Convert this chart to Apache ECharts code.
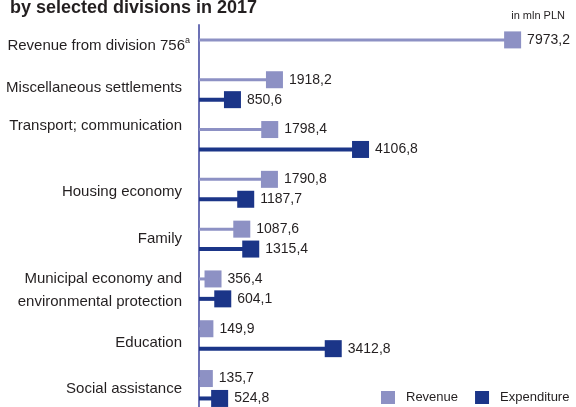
<!DOCTYPE html>
<html>
<head>
<meta charset="utf-8">
<script src="https://cdn.jsdelivr.net/npm/echarts@6/dist/echarts.min.js"></script>
<style>
  html, body { margin: 0; padding: 0; background: #ffffff; }
  #chart { width: 576px; height: 407px; }
</style>
</head>
<body>
<div id="chart"></div>
<script>
// Budget revenue and expenditure of gminas by selected divisions, 2017 (mln PLN)
const categories = [
  'Revenue from division 756',
  'Miscellaneous settlements',
  'Transport; communication',
  'Housing economy',
  'Family',
  'Municipal economy and\nenvironmental protection',
  'Education',
  'Social assistance'
];
const revenue = [7973.2, 1918.2, 1798.4, 1790.8, 1087.6, 356.4, 149.9, 135.7];
const expenditure = [null, 850.6, 4106.8, 1187.7, 1315.4, 604.1, 3412.8, 524.8];
const seriesNames = ['Revenue', 'Expenditure'];
const unitText = 'in mln PLN';
const titleText = 'by selected divisions in 2017';

const FONT = "'Liberation Sans', Arial, sans-serif";
const TEXT = '#231f20';
const C_REV = '#8d91c4';
const C_EXP = '#1b3588';
const C_AXIS = '#6c71b5';
const SQ = 17;              // marker square side
const CAT_SIZE = 15;
const VAL_SIZE = 14;
const labelShift = [6, -2, -14, 3, 0, 2, 4, 0]; // vertical nudge of category names, px
const labelInset = [0, 8, 8, 8, 8, 8, 8, 8];    // extra gap between name and axis, px

const GRID_LEFT = 199, GRID_RIGHT = 23, GRID_TOP = 15, GRID_H = 398.4;

function fmt(v) { return v.toFixed(1).replace('.', ','); }

function toData(values) {
  const out = [];
  values.forEach(function (v, i) { if (v != null) out.push([v, i]); });
  return out;
}

function renderer(others, color, lineW, up) {
  return function (params, api) {
    const v = api.value(0);
    const cat = api.value(1);
    const band = api.size([0, 1])[1];
    const paired = others[cat] != null;
    const dy = paired ? (up ? -0.2 : 0.2) * band : 0;
    const base = api.coord([0, cat]);
    const end = api.coord([v, cat]);
    const y = end[1] + dy;
    const cs = params.coordSys;
    const half = SQ / 2;
    const sqLeft = Math.max(end[0] - half, cs.x + 1);
    return {
      type: 'group',
      children: [
        { type: 'rect', shape: { x: base[0], y: y - lineW / 2, width: Math.max(0, end[0] - base[0]), height: lineW },
          style: { fill: color } },
        { type: 'rect', shape: { x: sqLeft, y: y - half, width: end[0] + half - sqLeft, height: SQ },
          style: { fill: color } },
        { type: 'text', x: end[0] + half + 6, y: y,
          style: { text: fmt(v), fill: TEXT, font: VAL_SIZE + 'px ' + FONT, align: 'left', verticalAlign: 'middle' } }
      ]
    };
  };
}

// rich styles for the category names (each one nudged separately)
const rich = {};
labelShift.forEach(function (s, i) {
  rich['c' + i] = {
    fontFamily: FONT, fontSize: CAT_SIZE, color: TEXT, lineHeight: 20,
    padding: [s > 0 ? 2 * s : 0, labelInset[i], s < 0 ? -2 * s : 0, 0]
  };
});
rich.s0 = { fontFamily: FONT, fontSize: 9, color: TEXT, lineHeight: 12, padding: [2, 0, 0, 0] };
rich.m1 = { fontFamily: FONT, fontSize: CAT_SIZE, color: TEXT, lineHeight: 25, padding: [4, labelInset[5], 0, 0], align: 'right' };
rich.m2 = { fontFamily: FONT, fontSize: CAT_SIZE, color: TEXT, lineHeight: 25, padding: [0, labelInset[5], 0, 0], align: 'right' };

function catLabel(value, idx) {
  if (idx === 0) return '{c0|' + value + '}{s0|a}';
  if (value.indexOf('\n') >= 0) {
    const parts = value.split('\n');
    return '{m1|' + parts[0] + '}\n{m2|' + parts[1] + '}';
  }
  return '{c' + idx + '|' + value + '}';
}

const chart = echarts.init(document.getElementById('chart'), null, { renderer: 'canvas' });
chart.setOption({
  animation: false,
  backgroundColor: '#ffffff',
  title: [
    { text: titleText, left: 10, top: -1, padding: 0,
      textStyle: { fontFamily: FONT, fontWeight: 'bold', fontSize: 18, color: TEXT } },
    { text: unitText, right: 11, top: 10, padding: 0,
      textStyle: { fontFamily: FONT, fontWeight: 'normal', fontSize: 11, color: TEXT } }
  ],
  legend: {
    left: 381, top: 391, width: 195, padding: 0,
    itemWidth: 14, itemHeight: 13, itemGap: 17,
    textStyle: { fontFamily: FONT, fontSize: 13, color: TEXT, padding: [0, 0, 0, 6] },
    data: [{ name: seriesNames[0], icon: 'rect' }, { name: seriesNames[1], icon: 'rect' }]
  },
  grid: [
    // plotting area
    { left: GRID_LEFT, right: GRID_RIGHT, top: GRID_TOP, height: GRID_H, outerBoundsMode: 'none', containLabel: false },
    // carries only the vertical axis line, which starts a little below the plot top
    { left: GRID_LEFT, right: GRID_RIGHT, top: 25, height: GRID_H - 10, outerBoundsMode: 'none', containLabel: false }
  ],
  xAxis: [
    { type: 'value', min: 0, max: 9000, show: false, gridIndex: 0 },
    { type: 'value', min: 0, max: 1, show: false, gridIndex: 1 }
  ],
  yAxis: [
    {
      type: 'category', inverse: true, data: categories, gridIndex: 0,
      axisTick: { show: false },
      axisLine: { show: false },
      axisLabel: { margin: 9, formatter: catLabel, rich: rich }
    },
    {
      type: 'value', min: 0, max: 1, gridIndex: 1,
      axisTick: { show: false }, axisLabel: { show: false }, splitLine: { show: false },
      axisLine: { show: true, lineStyle: { color: C_AXIS, width: 2 } }
    }
  ],
  series: [
    { name: seriesNames[0], type: 'custom', itemStyle: { color: C_REV },
      xAxisIndex: 0, yAxisIndex: 0,
      encode: { x: 0, y: 1 }, data: toData(revenue),
      renderItem: renderer(expenditure, C_REV, 3, true) },
    { name: seriesNames[1], type: 'custom', itemStyle: { color: C_EXP },
      xAxisIndex: 0, yAxisIndex: 0,
      encode: { x: 0, y: 1 }, data: toData(expenditure),
      renderItem: renderer(revenue, C_EXP, 4, false) }
  ]
});
</script>
</body>
</html>
